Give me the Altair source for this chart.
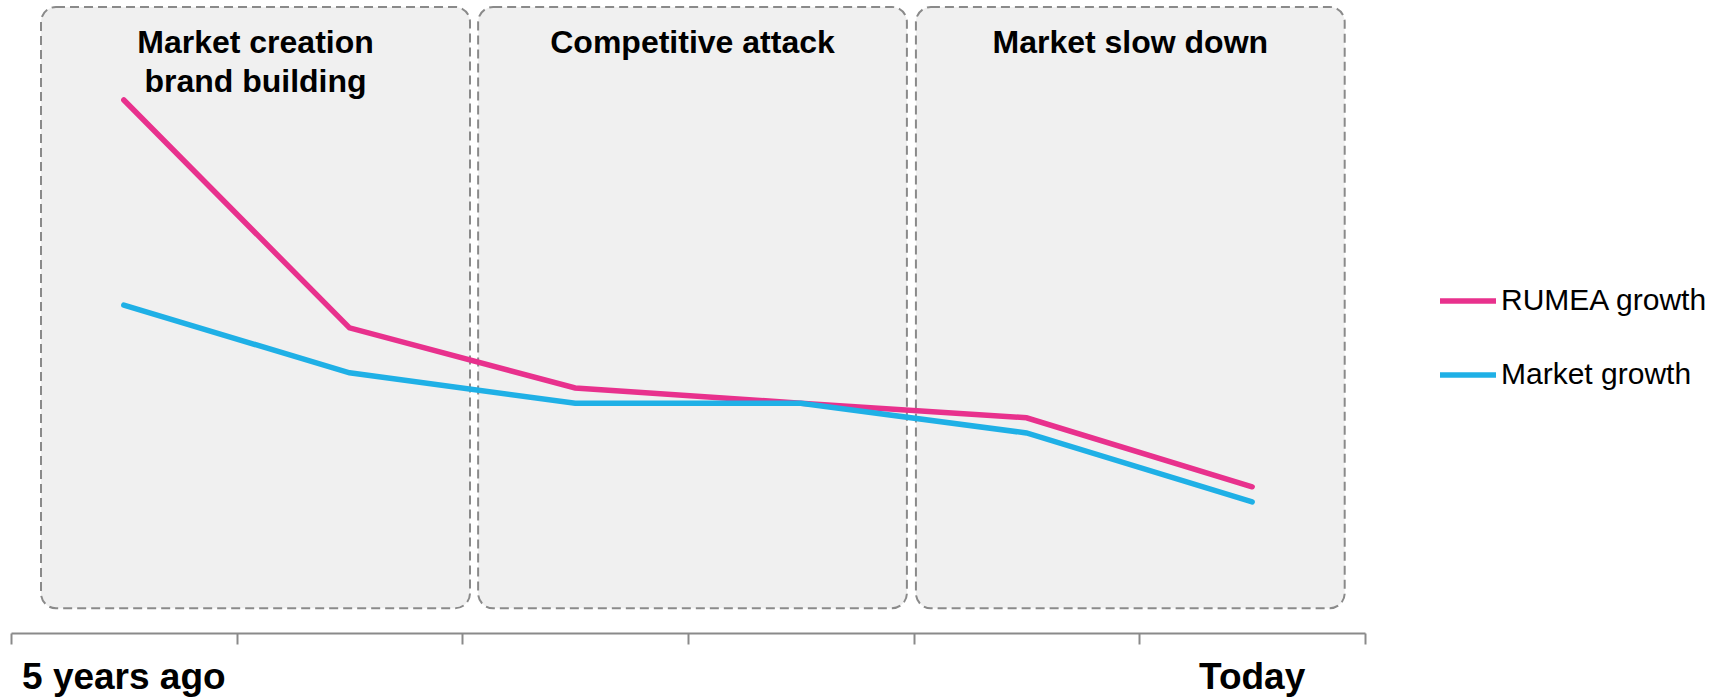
import altair as alt
import pandas as pd

# Six periods from five years ago to today, plotted at the middle of each period
periods = [0.5, 1.5, 2.5, 3.5, 4.5, 5.5]
rumea_growth = [84.2, 48.2, 38.7, 36.3, 34.0, 23.1]
market_growth = [51.8, 41.1, 36.3, 36.3, 31.6, 20.7]

# Phase panels behind the lines
phase_names = ["Market creation\nbrand building", "Competitive attack", "Market slow down"]
phase_start = [0.133, 2.07, 4.01]
phase_end = [2.034, 3.97, 5.91]
phase_low = [3.9, 3.9, 3.9]
phase_high = [98.9, 98.9, 98.9]

# Time labels under the axis
time_labels = ["5 years ago", "Today"]
time_pos = [0.5, 5.5]

series_names = ["RUMEA growth", "Market growth"]
series_colors = ["#E8318D", "#1FB0E6"]

FONT = "Liberation Sans"
W, H = 1354, 633

rumea_df = pd.DataFrame({"period": periods, "growth": rumea_growth, "series": series_names[0]})
market_df = pd.DataFrame({"period": periods, "growth": market_growth, "series": series_names[1]})
phase_df = pd.DataFrame({
    "phase": phase_names, "start": phase_start, "end": phase_end,
    "low": phase_low, "high": phase_high,
})
time_df = pd.DataFrame({"label": time_labels, "pos": time_pos})

x_scale = alt.Scale(domain=[0, 6], nice=False, zero=False)
y_scale = alt.Scale(domain=[0, 100], nice=False)
color_scale = alt.Scale(domain=series_names, range=series_colors)

x_axis = alt.Axis(
    values=[0, 1, 2, 3, 4, 5, 6], labels=False, title=None, grid=False,
    domainColor="#8a8a8a", domainWidth=2, tickColor="#8a8a8a", tickWidth=2,
    tickSize=11,
)

panels = alt.Chart(phase_df).mark_rect(
    fill="#f0f0f0", stroke="#8a8a8a", strokeWidth=2, strokeDash=[9, 5],
    cornerRadius=15,
).encode(
    x=alt.X("start:Q", scale=x_scale, axis=x_axis),
    x2="end:Q",
    y=alt.Y("low:Q", scale=y_scale, axis=None),
    y2="high:Q",
)

panel_titles = alt.Chart(phase_df).transform_calculate(
    mid="(datum.start + datum.end) / 2"
).mark_text(
    font=FONT, fontSize=32, fontWeight="bold", color="#000000",
    align="center", baseline="alphabetic", lineBreak="\n", lineHeight=39,
).encode(
    x=alt.X("mid:Q", scale=x_scale),
    y=alt.value(53),
    text="phase:N",
)

legend = alt.Legend(
    title=None, orient="none", legendX=1426, legendY=270,
    symbolType="stroke", symbolSize=3136, symbolStrokeWidth=5.5,
    labelFont=FONT, labelFontSize=30, labelColor="#000000", labelOffset=2,
    labelLimit=0, rowPadding=28,
)

color_enc = alt.Color("series:N", scale=color_scale, legend=legend)

rumea_line = alt.Chart(rumea_df).mark_line(strokeWidth=5.5, strokeCap="round", strokeJoin="miter").encode(
    x=alt.X("period:Q", scale=x_scale),
    y=alt.Y("growth:Q", scale=y_scale),
    color=color_enc,
)

market_line = alt.Chart(market_df).mark_line(strokeWidth=5.5, strokeCap="round", strokeJoin="miter").encode(
    x=alt.X("period:Q", scale=x_scale),
    y=alt.Y("growth:Q", scale=y_scale),
    color=color_enc,
)

time_text = alt.Chart(time_df).mark_text(
    font=FONT, fontSize=37, fontWeight="bold", color="#000000",
    align="center", baseline="alphabetic",
).encode(
    x=alt.X("pos:Q", scale=x_scale),
    y=alt.value(689),
    text="label:N",
)

chart = alt.layer(panels, panel_titles, rumea_line, market_line, time_text).properties(
    width=W, height=H,
    autosize=alt.AutoSizeParams(type="none"),
    padding={"left": 11, "top": 0, "right": 366, "bottom": 65},
    background="#ffffff",
).configure_view(stroke=None)

chart.save("out.html", embed_options={"renderer": "svg", "actions": False})
